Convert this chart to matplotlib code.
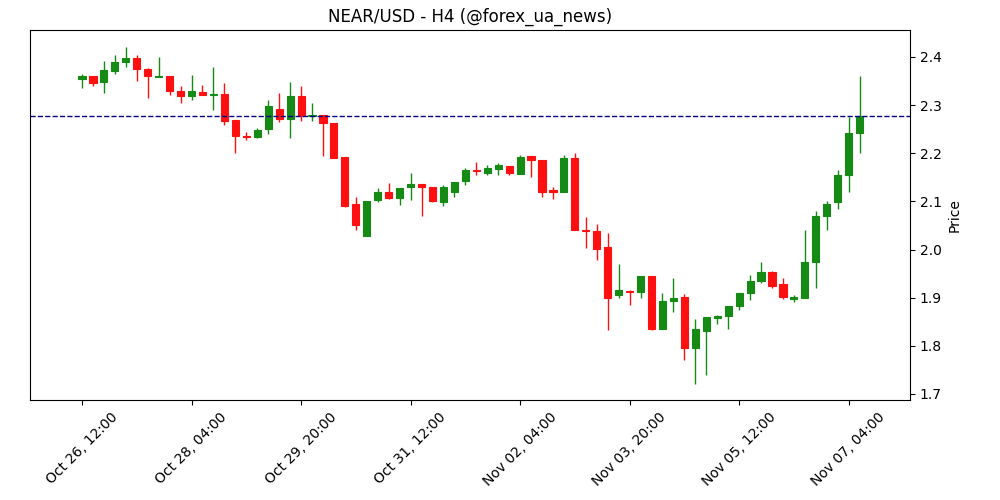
import pandas as pd
import matplotlib
matplotlib.use('Agg')
import matplotlib.pyplot as plt

# NEAR/USD 4h candles
opens = [2.355, 2.360, 2.348, 2.370, 2.390, 2.398, 2.375, 2.358, 2.360, 2.330,
         2.318, 2.328, 2.322, 2.323, 2.270, 2.235, 2.233, 2.250, 2.292, 2.272,
         2.318, 2.277, 2.280, 2.263, 2.192, 2.095, 2.028, 2.102, 2.120, 2.108,
         2.130, 2.137, 2.130, 2.098, 2.120, 2.143, 2.165, 2.160, 2.168, 2.173,
         2.157, 2.195, 2.185, 2.123, 2.120, 2.190, 2.040, 2.038, 2.005, 1.905,
         1.913, 1.912, 1.945, 1.835, 1.893, 1.902, 1.795, 1.830, 1.858, 1.862,
         1.882, 1.910, 1.935, 1.953, 1.928, 1.897, 1.900, 1.975, 2.070, 2.098,
         2.155, 2.242]
highs = [2.365, 2.360, 2.392, 2.405, 2.420, 2.405, 2.377, 2.400, 2.360, 2.340,
         2.363, 2.342, 2.380, 2.345, 2.270, 2.245, 2.252, 2.310, 2.325, 2.348,
         2.340, 2.305, 2.280, 2.263, 2.193, 2.110, 2.100, 2.128, 2.138, 2.128,
         2.158, 2.137, 2.130, 2.135, 2.140, 2.170, 2.182, 2.175, 2.180, 2.173,
         2.197, 2.195, 2.185, 2.130, 2.197, 2.200, 2.068, 2.053, 2.035, 1.970,
         1.915, 1.945, 1.945, 1.910, 1.940, 1.908, 1.855, 1.860, 1.865, 1.882,
         1.910, 1.948, 1.975, 1.955, 1.940, 1.905, 2.040, 2.080, 2.100, 2.165,
         2.275, 2.360]
lows = [2.335, 2.340, 2.325, 2.365, 2.380, 2.350, 2.315, 2.358, 2.320, 2.305,
        2.310, 2.320, 2.290, 2.258, 2.200, 2.228, 2.232, 2.240, 2.265, 2.232,
        2.268, 2.268, 2.195, 2.190, 2.088, 2.040, 2.028, 2.098, 2.105, 2.093,
        2.103, 2.070, 2.098, 2.090, 2.110, 2.135, 2.155, 2.155, 2.155, 2.155,
        2.157, 2.150, 2.110, 2.105, 2.120, 2.040, 2.003, 1.978, 1.833, 1.900,
        1.885, 1.900, 1.832, 1.835, 1.870, 1.770, 1.720, 1.740, 1.845, 1.835,
        1.875, 1.895, 1.930, 1.920, 1.897, 1.892, 1.900, 1.920, 2.040, 2.085,
        2.120, 2.200]
closes = [2.360, 2.345, 2.372, 2.390, 2.397, 2.375, 2.360, 2.360, 2.330, 2.318,
          2.330, 2.322, 2.324, 2.268, 2.235, 2.233, 2.248, 2.298, 2.272, 2.318,
          2.277, 2.280, 2.262, 2.190, 2.090, 2.052, 2.100, 2.120, 2.108, 2.128,
          2.137, 2.130, 2.100, 2.130, 2.140, 2.165, 2.163, 2.170, 2.175, 2.158,
          2.192, 2.186, 2.120, 2.120, 2.190, 2.040, 2.038, 2.002, 1.900, 1.915,
          1.912, 1.945, 1.835, 1.893, 1.900, 1.795, 1.835, 1.860, 1.862, 1.882,
          1.910, 1.935, 1.953, 1.925, 1.902, 1.902, 1.975, 2.070, 2.095, 2.155,
          2.242, 2.278]
start_time = '2024-10-26 12:00'

times = pd.date_range(start_time, periods=len(opens), freq='4h')

fig, ax = plt.subplots(figsize=(10, 5), dpi=100)
up_col, down_col = '#158a15', '#ff1010'
for i, (o, h, l, c) in enumerate(zip(opens, highs, lows, closes)):
    col = up_col if c >= o else down_col
    ax.vlines(i, l, h, color=col, linewidth=1, zorder=2)
    body = max(abs(c - o), 0.002)
    ax.bar(i, body, bottom=min(o, c), width=0.65, color=col, edgecolor=col,
           linewidth=0.8, zorder=3)

ax.axhline(closes[-1], color='darkblue', linestyle='--', linewidth=1, zorder=4)

ticks = list(range(0, len(opens), 10))
ax.set_xticks(ticks)
ax.set_xticklabels([times[i].strftime('%b %d, %H:%M') for i in ticks], rotation=45)
ax.set_xlim(-4.75, 75.6)
ax.set_ylim(1.6875, 2.456)
ax.yaxis.tick_right()
ax.yaxis.set_label_position('right')
ax.set_ylabel('Price')
ax.set_title('NEAR/USD - H4 (@forex_ua_news)')
plt.subplots_adjust(left=0.03, right=0.91, top=0.94, bottom=0.2)
plt.savefig('out.png')
